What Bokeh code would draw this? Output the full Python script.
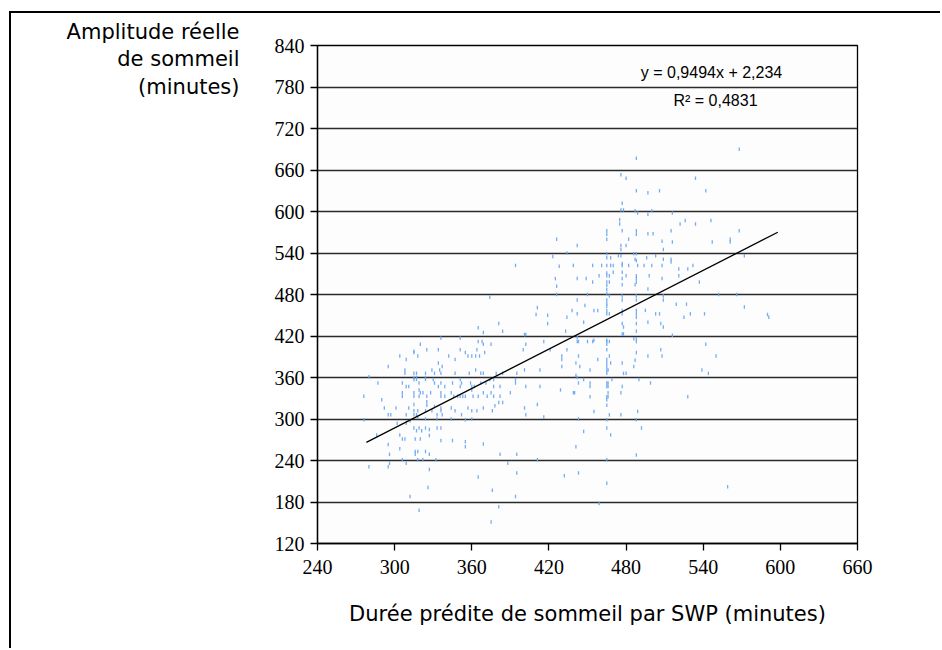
from bokeh.plotting import figure
from bokeh.models import Range1d, FixedTicker, Label, ColumnDataSource
from bokeh.embed import file_html
from bokeh.resources import INLINE

# ---------------- data ----------------
x_ticks = [240, 300, 360, 420, 480, 540, 600, 660]
y_ticks = [120, 180, 240, 300, 360, 420, 480, 540, 600, 660, 720, 780, 840]

# upper-left cloud
xa = [426, 434, 394, 423, 428, 425, 426, 426, 374, 411, 410, 419, 419, 434, 438, 381, 384, 365, 369, 401,
      402, 433, 336, 351]
ya = [560, 540, 522, 535, 521, 503, 492, 480, 476, 461, 451, 450, 438, 447, 457, 438, 427, 432, 425, 422,
      422, 427, 417, 417]

# upper-right cloud
xb = [568, 488, 476, 480, 534, 488, 497, 506, 542, 477,
      476, 478, 487, 489, 497, 500, 516, 526, 522, 534,
      546, 475, 475, 465, 465, 477, 488, 488, 497, 501,
      515, 568, 465, 482, 508, 516, 547, 561, 561, 476,
      480, 476, 509, 442, 465, 465, 468, 474, 476, 486,
      488, 487, 496, 503, 509, 515, 515, 572, 439, 454,
      461, 465, 468, 470, 477, 477, 482, 488, 489, 494,
      500, 508, 521, 528, 532, 465, 465, 467, 470, 477,
      477, 480, 488, 488, 488, 498, 508, 521, 459, 449,
      442, 465, 467, 465, 477, 487, 537, 454, 465, 465,
      497, 450, 467, 465, 465, 465, 477, 477, 488, 488,
      509, 509, 552, 566, 442, 455, 458, 448, 465, 465,
      467, 477, 477, 488, 488, 488, 495, 503, 506, 519,
      527, 572, 530, 541, 590, 591, 525, 442, 477, 478,
      488, 488, 497, 507, 509, 447, 477, 478, 486, 488,
      516, 455, 465, 442]
yb = [690, 677, 653, 648, 648, 630, 627, 630, 630, 612,
      602, 602, 601, 598, 596, 601, 598, 587, 582, 582,
      587, 588, 582, 572, 567, 572, 572, 567, 568, 568,
      572, 572, 560, 560, 557, 556, 556, 560, 556, 551,
      551, 545, 545, 551, 539, 533, 533, 536, 536, 539,
      539, 531, 533, 536, 531, 531, 527, 536, 522, 522,
      522, 522, 522, 522, 525, 522, 522, 529, 522, 522,
      522, 522, 517, 517, 522, 511, 507, 507, 512, 512,
      503, 507, 507, 503, 498, 507, 503, 507, 507, 503,
      503, 498, 498, 493, 494, 494, 498, 498, 487, 481,
      488, 480, 478, 472, 467, 463, 478, 472, 478, 472,
      478, 472, 480, 480, 472, 457, 457, 464, 457, 452,
      452, 457, 452, 457, 452, 447, 457, 452, 452, 466,
      466, 462, 452, 452, 451, 447, 447, 452, 438, 433,
      438, 427, 440, 438, 433, 440, 423, 423, 416, 416,
      421, 414, 414, 418]

# lower-right cloud
xc = [442, 443, 450, 454, 465, 467, 465, 488, 542, 507,
      465, 443, 467, 488, 497, 508, 550, 458, 465, 465,
      468, 441, 477, 487, 486, 444, 452, 465, 465, 466,
      465, 478, 480, 539, 544, 441, 442, 447, 469, 490,
      443, 452, 465, 466, 452, 465, 466, 477, 499, 440,
      466, 476, 452, 465, 466, 528, 465, 465, 455, 467,
      476, 489, 443, 465, 488, 465, 492, 447, 468, 441,
      488, 465, 443, 465, 559, 459]
yc = [412, 412, 412, 412, 412, 412, 408, 412, 408, 400,
      400, 391, 391, 396, 391, 391, 391, 386, 386, 381,
      381, 381, 381, 385, 376, 376, 371, 376, 371, 371,
      366, 366, 366, 371, 366, 363, 360, 357, 357, 357,
      352, 352, 352, 352, 347, 347, 347, 347, 352, 338,
      338, 338, 332, 332, 332, 332, 328, 320, 311, 306,
      306, 311, 300, 299, 299, 287, 287, 282, 277, 260,
      248, 241, 222, 207, 202, 178]

# lower-left cloud
xd = [320, 365, 368, 369, 364, 375, 351, 334, 325, 315,
      315, 304, 318, 342, 347, 355, 357, 360, 363, 366,
      370, 402, 400, 416, 421, 434, 430, 430, 430, 309,
      334, 337, 295, 308, 308, 315, 317, 315, 317, 324,
      324, 329, 331, 336, 335, 347, 358, 363, 367, 369,
      379, 384, 395, 413, 401, 280, 287, 306, 315, 317,
      319, 324, 330, 331, 336, 339, 334, 309, 311, 351,
      352, 351, 345, 359, 360, 362, 367, 371, 374, 377,
      377, 382, 394, 394, 402, 413, 429, 439, 276, 290,
      306, 306, 315, 319, 320, 315, 319, 322, 325, 328,
      336, 336, 339, 344, 346, 349, 351, 353, 355, 360,
      361, 365, 369, 372, 375, 377, 382, 390, 325, 325,
      324, 329, 331, 315, 318, 315, 292, 301, 311, 295,
      297, 309, 336, 336, 333, 337, 344, 347, 352, 357,
      360, 364, 369, 376, 378, 381, 384, 401, 402, 411,
      416, 315, 317, 318, 324, 333, 344, 355, 360, 276,
      302, 309, 312, 315, 317, 319, 321, 324, 327, 333,
      336, 304, 306, 308, 286, 316, 320, 327, 336, 345,
      355, 355, 369, 295, 304, 316, 318, 316, 324, 327,
      296, 296, 306, 309, 318, 322, 332, 382, 395, 411,
      388, 280, 295, 327, 365, 395, 432, 326, 376, 312,
      394, 381, 319, 375]
yd = [408, 412, 412, 408, 400, 408, 400, 400, 400, 398,
      396, 391, 391, 391, 386, 396, 391, 391, 391, 391,
      396, 408, 400, 412, 400, 400, 391, 386, 376, 386,
      381, 376, 376, 371, 366, 366, 366, 360, 360, 366,
      360, 371, 366, 366, 371, 366, 366, 371, 366, 366,
      366, 366, 366, 371, 371, 361, 352, 352, 357, 357,
      352, 357, 357, 352, 352, 347, 347, 347, 347, 357,
      352, 347, 352, 352, 347, 347, 352, 352, 357, 357,
      347, 347, 357, 352, 347, 347, 342, 338, 333, 328,
      338, 333, 338, 342, 338, 333, 333, 338, 333, 338,
      338, 333, 333, 338, 333, 333, 333, 333, 333, 342,
      333, 333, 338, 333, 338, 333, 333, 338, 325, 320,
      312, 312, 318, 321, 312, 312, 316, 316, 316, 306,
      306, 306, 316, 312, 306, 306, 316, 312, 306, 316,
      312, 312, 316, 312, 319, 324, 324, 316, 306, 321,
      303, 306, 306, 302, 300, 300, 300, 299, 300, 299,
      294, 294, 297, 287, 283, 287, 283, 287, 285, 287,
      287, 277, 271, 271, 277, 271, 271, 276, 269, 269,
      267, 260, 264, 263, 257, 253, 253, 249, 253, 249,
      249, 236, 241, 236, 241, 241, 241, 249, 249, 241,
      236, 231, 231, 227, 216, 222, 218, 201, 197, 188,
      188, 173, 168, 151]

# linear trend (Excel trendline)
trend_slope = 0.9494
trend_intercept = 2.234
trend_r2 = 0.4831
trend_x = [278, 598]

# ---------------- layout ----------------
OX, OY = 9, 11            # outer page frame offset (left, top)
BW = 2                    # page frame line width
W, H = 942 - OX - BW, 650 - OY - BW
FL, FR, FT, FB = 317 - OX - BW, 857 - OX - BW, 45 - OY - BW, 543 - OY - BW
X0, X1, Y0, Y1 = 240, 660, 120, 840


def dx(px):
    return X0 + (px - OX - BW - FL) * (X1 - X0) / (FR - FL)


def dy(py):
    return Y0 + (FB - (py - OY - BW)) * (Y1 - Y0) / (FB - FT)


p = figure(width=W, height=H, x_range=Range1d(X0, X1), y_range=Range1d(Y0, Y1),
           output_backend="svg", toolbar_location=None,
           min_border_left=FL, min_border_right=W - FR,
           min_border_top=FT, min_border_bottom=H - FB)
p.styles = {"margin-left": f"{OX}px", "margin-top": f"{OY}px",
            "border-left": f"{BW}px solid black", "border-top": f"{BW}px solid black"}
p.background_fill_color = "#fdfdfd"
p.border_fill_color = "white"
p.outline_line_color = "black"
p.outline_line_width = 1.3

p.xgrid.visible = False
p.ygrid.ticker = FixedTicker(ticks=y_ticks)
p.ygrid.grid_line_color = "#2a2a2a"
p.ygrid.grid_line_width = 1.4

for ax, ticks in ((p.xaxis[0], x_ticks), (p.yaxis[0], y_ticks)):
    ax.ticker = FixedTicker(ticks=ticks)
    ax.major_label_text_font = "Liberation Serif"
    ax.major_label_text_font_size = "20px"
    ax.major_label_text_color = "black"
    ax.axis_line_color = "black"
    ax.axis_line_width = 1.3
    ax.major_tick_line_color = "black"
    ax.major_tick_line_width = 1.3
    ax.major_tick_in = 0
    ax.major_tick_out = 7
    ax.minor_tick_line_color = None
    ax.axis_label_text_font = "DejaVu Sans"
    ax.axis_label_text_font_size = "21px"
    ax.axis_label_text_font_style = "normal"
    ax.axis_label_text_color = "black"
p.yaxis.major_label_standoff = 6
p.xaxis.major_label_standoff = 9

p.xaxis.axis_label = "Durée prédite de sommeil par SWP (minutes)"
p.xaxis.axis_label_standoff = 25

p.yaxis.axis_label = " \nAmplitude réelle\nde sommeil\n(minutes)"
p.yaxis.axis_label_orientation = "horizontal"
p.yaxis.axis_label_align = "end"
p.yaxis.axis_label_text_align = "right"
p.yaxis.axis_label_text_line_height = 1.15
p.yaxis.axis_label_standoff = 32

xs = xa + xb + xc + xd
ys = ya + yb + yc + yd
src = ColumnDataSource(dict(x=xs, y=ys))
p.rect("x", "y", width=1.3, height=3.5, width_units="screen", height_units="screen",
       source=src, fill_color="#64a4f2", line_color=None, fill_alpha=0.9)

ty = [trend_slope * v + trend_intercept for v in trend_x]
p.line(trend_x, ty, line_color="black", line_width=1.3)

eq_font = "Liberation Sans"
p.add_layout(Label(x=dx(711), y=dy(72), text="y = 0,9494x + 2,234", text_font=eq_font,
                   text_font_size="16px", text_color="black",
                   text_align="center", text_baseline="middle"))
p.add_layout(Label(x=dx(715), y=dy(100), text="R² = 0,4831", text_font=eq_font,
                   text_font_size="16px", text_color="black",
                   text_align="center", text_baseline="middle"))

open("out.html", "w").write(file_html(p, INLINE))
